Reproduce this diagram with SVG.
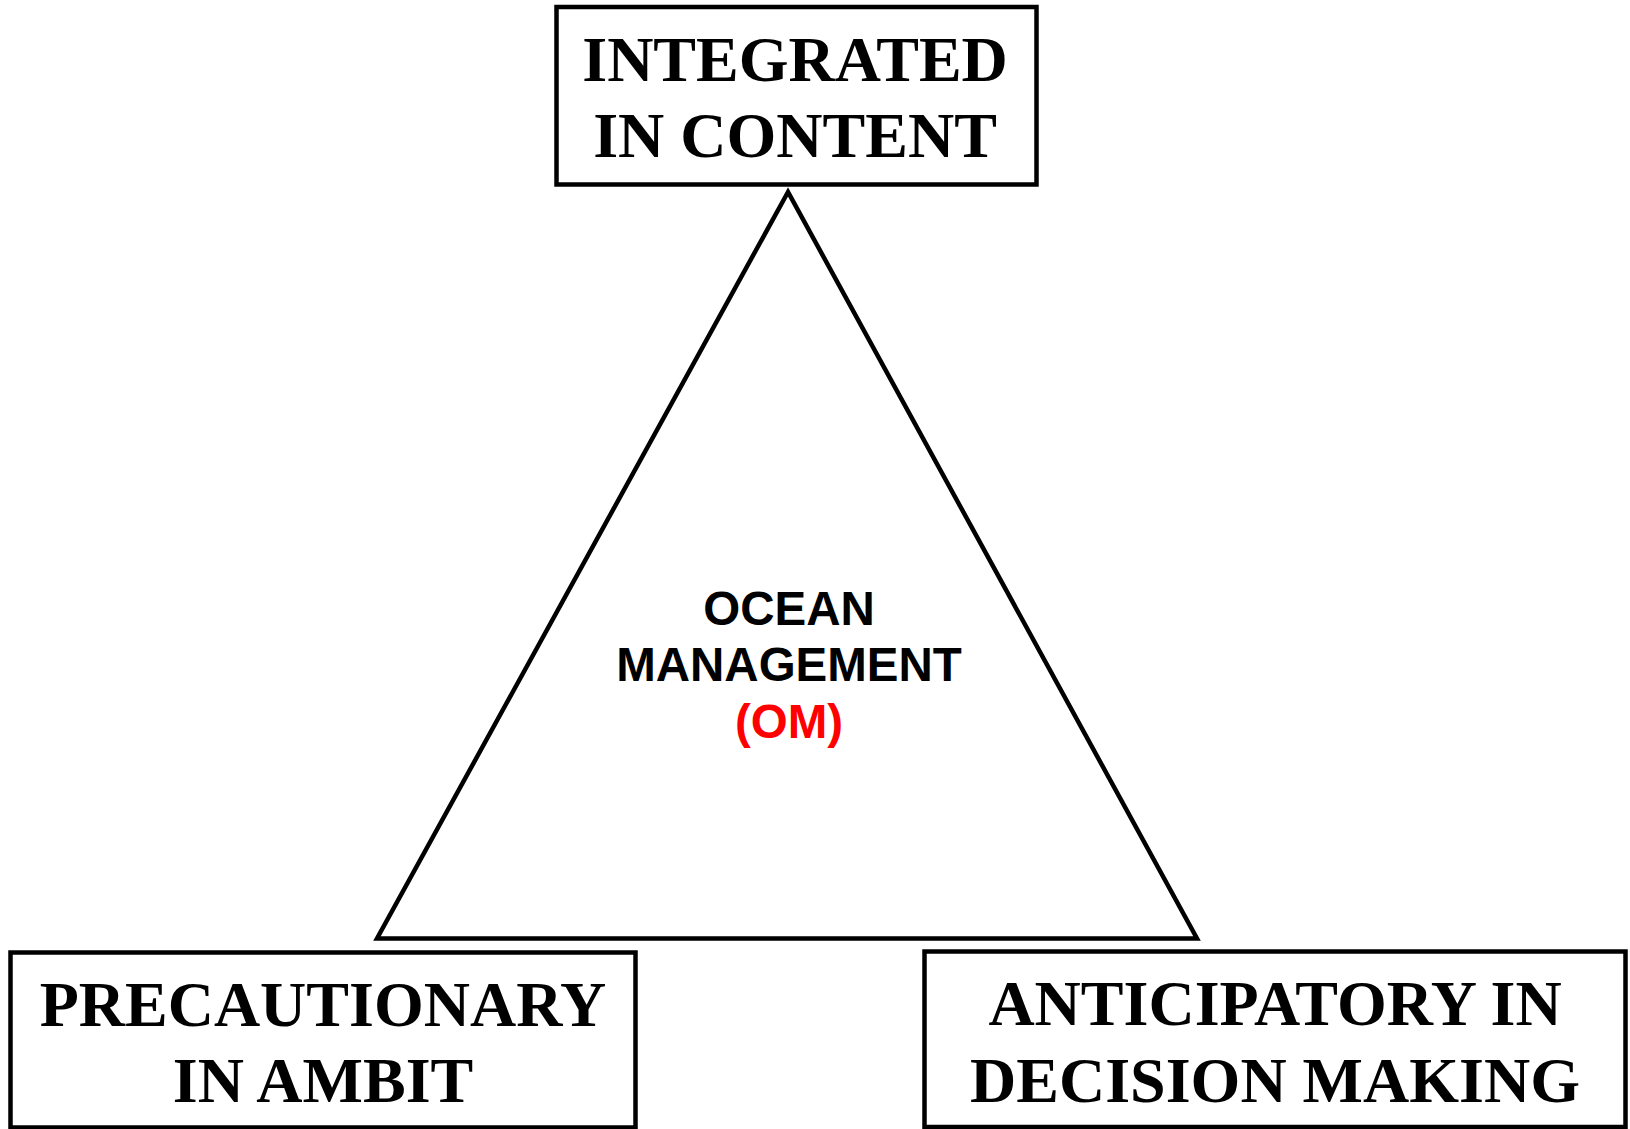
<svg xmlns="http://www.w3.org/2000/svg" width="1630" height="1129" viewBox="0 0 1630 1129">
<style>
.box{fill:#fff;stroke:#000;stroke-width:4.5}
.t{font-family:"Liberation Serif","Times New Roman",serif;font-weight:bold;font-size:64px;text-anchor:middle;fill:#000}
.c{font-family:"Liberation Sans",Arial,sans-serif;font-weight:bold;font-size:47.5px;text-anchor:middle;fill:#000}
</style>
<rect width="1630" height="1129" fill="#fff"/>
<g id="connectors">
<polygon id="triangle" points="788,192 377,938.5 1197,938.5" fill="none" stroke="#000" stroke-width="4.5" stroke-linejoin="miter"/>
</g>
<g id="center">
<text class="c" x="789" y="625">OCEAN</text>
<text class="c" x="789" y="681">MANAGEMENT</text>
<text class="c" x="789" y="738" fill="#ff0000" style="fill:#ff0000">(OM)</text>
</g>
<g id="top">
<rect class="box" x="556.5" y="7" width="480" height="177.5"/>
<text class="t" x="795" y="81">INTEGRATED</text>
<text class="t" x="795" y="157">IN CONTENT</text>
</g>
<g id="bottom-left">
<rect class="box" x="10.5" y="952.5" width="625" height="175"/>
<text class="t" x="323" y="1026">PRECAUTIONARY</text>
<text class="t" x="323" y="1102">IN AMBIT</text>
</g>
<g id="bottom-right">
<rect class="box" x="924.5" y="951.5" width="701" height="175.5"/>
<text class="t" x="1275" y="1025">ANTICIPATORY IN</text>
<text class="t" x="1275" y="1102">DECISION MAKING</text>
</g>
</svg>
